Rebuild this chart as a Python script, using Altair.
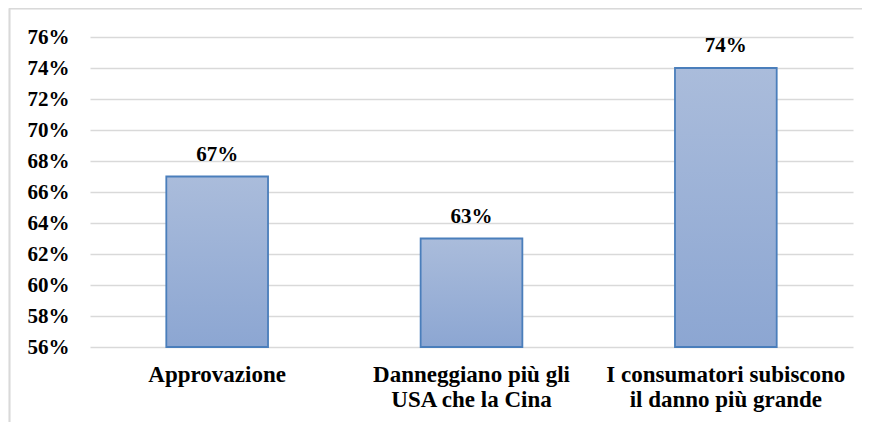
import altair as alt
import pandas as pd

categories = ["Approvazione", "Danneggiano più gli USA che la Cina", "I consumatori subiscono il danno più grande"]
label_lines = [["Approvazione"], ["Danneggiano più gli", "USA che la Cina"], ["I consumatori subiscono", "il danno più grande"]]
values = [0.67, 0.63, 0.74]
value_labels = ["67%", "63%", "74%"]
tick_values = [0.56, 0.58, 0.60, 0.62, 0.64, 0.66, 0.68, 0.70, 0.72, 0.74, 0.76]

df = pd.DataFrame({"cat": categories, "value": values, "label": value_labels})

FONT = "Liberation Serif"

label_expr = "{" + ", ".join(
    f"'{c}': {label_lines[i]!r}" for i, c in enumerate(categories)
) + "}[datum.value]"

x = alt.X("cat:N", sort=categories, title=None,
          scale=alt.Scale(paddingInner=0.6, paddingOuter=0.3),
          axis=alt.Axis(labelAngle=0, labelExpr=label_expr, labelPadding=16, ticks=False,
                        labelFont=FONT, labelFontWeight="bold", labelFontSize=23, labelColor="#000000",
                        domain=False, labelLimit=300, labelLineHeight=25, grid=False))
y = alt.Y("value:Q", title=None,
          scale=alt.Scale(domain=[0.56, 0.76], nice=False, zero=False),
          axis=alt.Axis(format=".0%", values=tick_values, labelOverlap=False, tickCount=11,
                        labelFont=FONT, labelFontWeight="bold", labelFontSize=21, labelColor="#000000",
                        gridColor="#D9D9D9", gridWidth=1.5,
                        labelPadding=21, ticks=False, domain=False))

bars = alt.Chart(df).mark_bar(
    stroke="#4A7EBB", strokeWidth=1.8,
    color=alt.Gradient(gradient="linear", x1=0, x2=0, y1=0, y2=1,
                       stops=[alt.GradientStop(color="#AABCDB", offset=0),
                              alt.GradientStop(color="#8CA6D2", offset=1)])
).encode(x=x, y=y, y2=alt.datum(0.56))

text = alt.Chart(df).mark_text(baseline="alphabetic", dy=-16, font=FONT, fontWeight="bold",
                               fontSize=21, color="#000000").encode(
    x=x, y=y, text="label:N")

frame_top = alt.Chart(df).mark_rule(color="#D9D9D9", strokeWidth=1.5).encode(
    x=alt.value(-81), x2=alt.value(790), y=alt.value(-28.5))
frame_left = alt.Chart(df).mark_rule(color="#D9D9D9", strokeWidth=1.5).encode(
    x=alt.value(-80.5), y=alt.value(-28.5), y2=alt.value(400))

chart = alt.layer(bars, text, frame_top, frame_left).properties(
    width=763, height=310,
    view=alt.ViewBackground(stroke=None),
    autosize=alt.AutoSizeParams(type="none"),
    padding={"left": 82, "top": 29, "right": 9, "bottom": 75},
)

chart.save("out.html", embed_options={"renderer": "svg", "actions": False})
